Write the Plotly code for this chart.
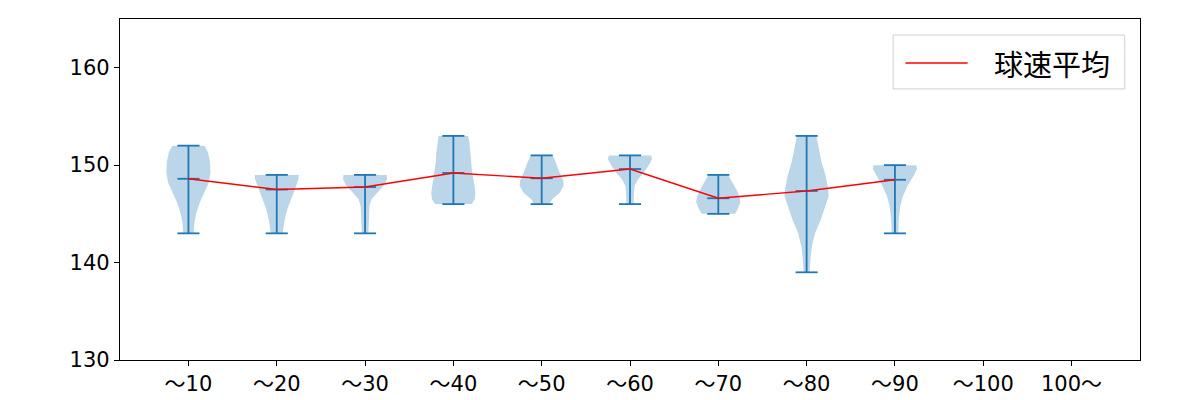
import plotly.graph_objects as go

# ---- data ----
categories = ["～10", "～20", "～30", "～40", "～50", "～60", "～70", "～80", "～90", "～100", "100～"]
maxes = [152, 149, 149, 153, 151, 151, 149, 153, 150]
mins = [143, 143, 143, 146, 146, 146, 145, 139, 143]
means = [148.6, 147.5, 147.75, 149.2, 148.65, 149.6, 146.6, 147.35, 148.5]
legend_label = "球速平均"

# density profiles (value levels, relative half-width) per violin
v1_y = [152.0, 151.3, 150.3, 149.2, 148.2, 147.2, 146.2, 145.1, 144.1, 143.0]
v1_w = [0.73, 0.89, 0.98, 1.0, 0.92, 0.71, 0.52, 0.36, 0.27, 0.24]
v2_y = [149.0, 148.56, 147.5, 146.5, 145.5, 144.4, 143.0]
v2_w = [1.0, 0.98, 0.82, 0.64, 0.48, 0.36, 0.27]
v3_y = [149.0, 148.56, 147.9, 147.2, 146.5, 145.8, 144.8, 143.0]
v3_w = [0.98, 1.0, 0.85, 0.57, 0.29, 0.2, 0.17, 0.15]
v4_y = [153.0, 152.3, 151.3, 150.3, 149.2, 148.2, 147.2, 146.5, 146.0]
v4_w = [0.67, 0.73, 0.77, 0.8, 0.85, 0.94, 1.0, 0.97, 0.83]
v5_y = [151.0, 150.3, 149.2, 148.4, 147.9, 147.2, 146.5, 146.0]
v5_w = [0.5, 0.64, 0.82, 0.98, 1.0, 0.83, 0.48, 0.34]
v6_y = [151.0, 150.6, 149.9, 149.2, 148.6, 147.9, 146.8, 146.0]
v6_w = [0.96, 1.0, 0.83, 0.61, 0.38, 0.21, 0.17, 0.17]
v7_y = [149.0, 148.4, 147.5, 146.7, 146.2, 145.5, 145.0]
v7_w = [0.45, 0.61, 0.82, 0.97, 1.0, 0.88, 0.76]
v8_y = [153.0, 152.0, 150.3, 148.9, 147.5, 146.8, 145.8, 144.4, 143.06, 141.7, 140.3, 139.0]
v8_w = [0.44, 0.52, 0.68, 0.86, 0.98, 1.0, 0.85, 0.64, 0.39, 0.24, 0.17, 0.14]
v9_y = [150.0, 149.6, 148.9, 147.9, 146.8, 145.8, 144.4, 143.0]
v9_w = [0.97, 1.0, 0.85, 0.58, 0.36, 0.24, 0.17, 0.15]

profiles_y = [v1_y, v2_y, v3_y, v4_y, v5_y, v6_y, v7_y, v8_y, v9_y]
profiles_w = [v1_w, v2_w, v3_w, v4_w, v5_w, v6_w, v7_w, v8_w, v9_w]

BLUE = "#1f77b4"
HALF = 0.25   # max half width of a violin (x units)
CAP = 0.125   # half width of cap lines
FONT = "DejaVu Sans, Noto Sans CJK JP"

fig = go.Figure()

# violin bodies
for i, (ys, ws) in enumerate(zip(profiles_y, profiles_w)):
    pos = i + 1
    xr = [pos + HALF * w for w in ws]
    xl = [pos - HALF * w for w in ws]
    fig.add_trace(go.Scatter(
        x=xr + xl[::-1] + [xr[0]], y=ys + ys[::-1] + [ys[0]],
        mode="lines", fill="toself", fillcolor="rgba(31,119,180,0.3)",
        line=dict(width=0), hoverinfo="skip", showlegend=False))

# bars, caps and mean ticks
lx, ly = [], []
for i in range(len(maxes)):
    pos = i + 1
    lx += [pos, pos, None]
    ly += [mins[i], maxes[i], None]
    for v in (mins[i], maxes[i], means[i]):
        lx += [pos - CAP, pos + CAP, None]
        ly += [v, v, None]
fig.add_trace(go.Scatter(x=lx, y=ly, mode="lines", line=dict(color=BLUE, width=1.8),
                         hoverinfo="skip", showlegend=False))

# mean line
fig.add_trace(go.Scatter(x=list(range(1, len(means) + 1)), y=means, mode="lines",
                         line=dict(color="red", width=1.4), name=legend_label,
                         showlegend=False))

# matplotlib-style legend box (paper coordinates)
fig.add_shape(type="rect", xref="paper", yref="paper", x0=0.758, x1=0.985, y0=0.795, y1=0.953,
              line=dict(color="#d0d0d0", width=1), fillcolor="rgba(255,255,255,0.8)")
fig.add_shape(type="line", xref="paper", yref="paper", x0=0.770, x1=0.831, y0=0.871, y1=0.871,
              line=dict(color="red", width=1.4))
fig.add_annotation(xref="paper", yref="paper", x=0.855, y=0.871, xanchor="left", yanchor="middle",
                   text=legend_label, showarrow=False,
                   font=dict(family="Noto Sans CJK JP", size=29, color="black"))

fig.update_layout(
    width=1192, height=392,
    margin=dict(l=112, r=60, t=11, b=40),
    plot_bgcolor="white", paper_bgcolor="white",
    font=dict(family=FONT, size=21, color="black"),
)
fig.update_xaxes(range=[0.225, 11.775], tickmode="array",
                 tickvals=list(range(1, len(categories) + 1)), ticktext=categories,
                 showline=True, mirror=True, linecolor="black", linewidth=1.3,
                 ticks="outside", ticklen=5, tickwidth=1.2, tickcolor="black",
                 showgrid=False, zeroline=False, automargin=False)
fig.update_yaxes(range=[130, 165], tickvals=[130, 140, 150, 160],
                 showline=True, mirror=True, linecolor="black", linewidth=1.3,
                 ticks="outside", ticklen=5, tickwidth=1.2, tickcolor="black",
                 showgrid=False, zeroline=False, automargin=False)

fig.write_html("out.html")
